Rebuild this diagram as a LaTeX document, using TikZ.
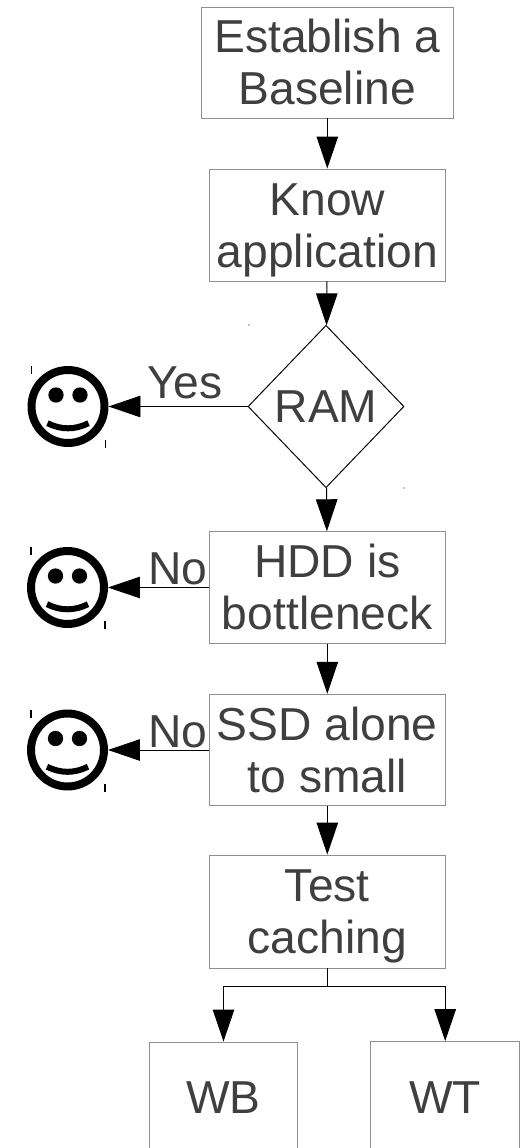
\documentclass[tikz,border=0pt]{standalone}
\usepackage{fontspec}
\setmainfont{Liberation Sans}
\usepackage{xcolor}
\usetikzlibrary{
    arrows.meta,
    shapes.geometric,
    positioning
}
\definecolor{boxtext}{HTML}{3F3F3F}
\definecolor{boxline}{HTML}{909090}
\tikzset{
    stepbox/.style={draw=boxline, line width=0.55pt, rectangle, align=center, text=boxtext, inner sep=0pt,
        font=\fontsize{26.3}{29.5}\selectfont},
    label/.style={text=boxtext, inner sep=0pt, font=\fontsize{26.3}{29.5}\selectfont},
    flow/.style={draw=black, line width=0.55pt, -{Triangle[length=0.64cm,width=0.43cm]}}
}
% two centred lines, same place in every box
\newcommand{\twolines}[2]{\rule{0pt}{26pt}#1\\#2\rule[-7.5pt]{0pt}{7.5pt}}
% one smiley: name, x, y
\newcommand{\smileyface}[3]{
    \node[circle, draw=black, line width=0.16cm, minimum size=1.46cm, inner sep=0pt, outer sep=0.08cm] (#1) at (#2, #3) {};
    \fill (#2-12, #3-11.5) circle (0.153cm);
    \fill (#2+12, #3-11.5) circle (0.153cm);
    \draw[line width=0.12cm] (#2-20.5, #3+16.7) .. controls (#2-7, #3+23.5) and (#2+7, #3+23.5) .. (#2+20.5, #3+16.7);
    \draw[line width=0.03cm] (#2-36.5, #3-40.5) -- (#2-36.5, #3-32.5);
    \draw[line width=0.03cm] (#2+37.5, #3+33.5) -- (#2+37.5, #3+41.5);
}
\begin{document}
\begin{tikzpicture}[x=0.02cm, y=-0.02cm]
    \useasboundingbox (0, 0) rectangle (521, 1148);
    \clip (0, 0) rectangle (521, 1148);
    \node[stepbox, minimum width=5.03cm, minimum height=2.22cm] (baseline) at (327.3, 62.5) {\twolines{Establish a}{Baseline}};
    \node[stepbox, minimum width=4.73cm, minimum height=2.24cm] (know) at (327.3, 225) {\twolines{Know}{application}};
    \node[diamond, draw=black, line width=0.55pt, text=boxtext, inner sep=0pt, minimum width=3.12cm, minimum height=3.25cm,
        font=\fontsize{26.3}{29.5}\selectfont] (ram) at (326, 406.5) {RAM};
    \node[stepbox, minimum width=4.73cm, minimum height=2.23cm] (hdd) at (327.3, 587.5) {\twolines{HDD is}{bottleneck}};
    \node[stepbox, minimum width=4.73cm, minimum height=2.23cm] (ssd) at (327.3, 750) {\twolines{SSD alone}{to small}};
    \node[stepbox, minimum width=4.73cm, minimum height=2.26cm] (test) at (327.3, 911.5) {\twolines{Test}{caching}};
    \node[stepbox, minimum width=2.97cm, minimum height=2.98cm] (wb) at (223.5, 1116.5) {};
    \node[stepbox, minimum width=2.97cm, minimum height=2.98cm] (wt) at (445.2, 1116) {};
    \node[label] (wbtext) at (223.5, 1098) {WB};
    \node[label] (wttext) at (445.2, 1098) {WT};
    \smileyface{faceram}{68}{406.5}
    \smileyface{facehdd}{67.5}{587.5}
    \smileyface{facessd}{67.5}{750}
    \fill (249, 325) circle (0.012cm);
    \fill (404, 488) circle (0.012cm);
    \node[label, anchor=base west] (yes) at (147, 398.5) {Yes};
    \node[label, anchor=base west] (nohdd) at (148, 584) {No};
    \node[label, anchor=base west] (nossd) at (148, 747) {No};
    \coordinate (split) at (327.3, 986);
    \draw[flow] (baseline) -- (know);
    \draw[flow] (know) -- (ram);
    \draw[flow] (ram) -- (hdd);
    \draw[flow] (hdd) -- (ssd);
    \draw[flow] (ssd) -- (test);
    \draw[flow] (ram) -- (faceram);
    \draw[flow] (hdd) -- (facehdd);
    \draw[flow] (ssd) -- (facessd);
    \draw[line width=0.55pt] (test) -- (split);
    \draw[flow] (split) -| (wb);
    \draw[flow] (split) -| (wt);
\end{tikzpicture}
\end{document}
